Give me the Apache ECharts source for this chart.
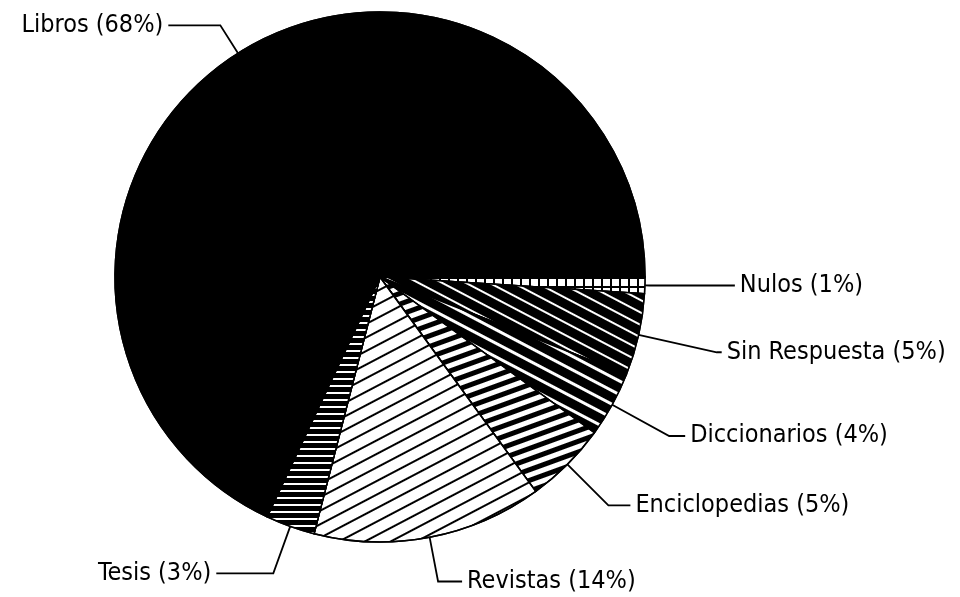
<!DOCTYPE html>
<html>
<head>
<meta charset="utf-8">
<script src="https://cdn.jsdelivr.net/npm/echarts@6/dist/echarts.min.js"></script>
<style>
  html, body { margin: 0; padding: 0; background: #fff; }
  #chart { width: 960px; height: 597px; }
</style>
</head>
<body>
<div id="chart"></div>
<script>
// slices, clockwise from 3 o'clock
const categories = ['Nulos', 'Sin Respuesta', 'Diccionarios', 'Enciclopedias', 'Revistas', 'Tesis', 'Libros'];
const percents = [1, 5, 4, 5, 14, 3, 68];

// fill pattern for each slice (same order)
const fills = [
  { bg: '#000', decal: { symbol: 'rect', color: '#fff', dashArrayX: [7, 1.5], dashArrayY: [7, 1.5], rotation: 0 } },
  { bg: '#000', decal: { symbol: 'rect', color: '#fff', dashArrayX: [1, 0], dashArrayY: [1.5, 9], rotation: Math.PI / 6.5 } },
  { bg: '#000', decal: { symbol: 'rect', color: '#fff', dashArrayX: [1, 0], dashArrayY: [2.5, 9], rotation: Math.PI / 6.5 } },
  { bg: '#fff', decal: { symbol: 'rect', color: '#000', dashArrayX: [1, 0], dashArrayY: [5, 4.5], rotation: -Math.PI / 9 } },
  { bg: '#fff', decal: { symbol: 'rect', color: '#000', dashArrayX: [1, 0], dashArrayY: [1.5, 10], rotation: -Math.PI / 6.5 } },
  { bg: '#000', decal: { symbol: 'rect', color: '#fff', dashArrayX: [1, 0], dashArrayY: [1.5, 5], rotation: 0 } },
  { bg: '#000', decal: { symbol: 'none' } }
];

// leader line lengths [radial, horizontal]
const leaders = [[5, 85], [80, 5], [65, 16], [58, 22], [45, 24], [50, 57], [33, 52]];

const chart = echarts.init(document.getElementById('chart'));

let pieData = [];
for (let i = 0; i < categories.length; i++) {
  pieData.push({
    name: categories[i],
    value: percents[i],
    itemStyle: { color: fills[i].bg, decal: fills[i].decal },
    labelLine: { length: leaders[i][0], length2: leaders[i][1] }
  });
}

chart.setOption({
  backgroundColor: '#fff',
  animation: false,
  series: [
    {
      type: 'pie',
      center: [380, 277],
      radius: 265,
      startAngle: 0,
      clockwise: true,
      avoidLabelOverlap: false,
      itemStyle: { borderColor: '#000', borderWidth: 1.5 },
      label: {
        show: true,
        formatter: '{b} ({c}%)',
        color: '#000',
        fontSize: 25,
        fontFamily: "'Liberation Sans Narrow', 'DejaVu Sans Condensed', sans-serif",
        distanceToLabelLine: 5
      },
      labelLine: {
        show: true,
        lineStyle: { color: '#000', width: 1.8 }
      },
      data: pieData
    }
  ]
});
</script>
</body>
</html>
